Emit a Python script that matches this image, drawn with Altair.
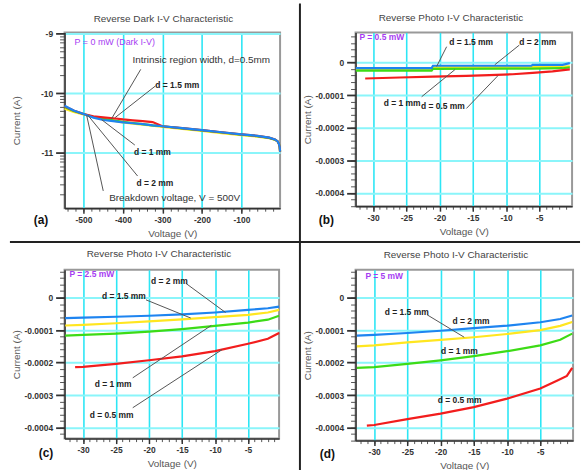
import math
import altair as alt
import pandas as pd

FONT = "Liberation Sans"
AX = "#333333"
RED, YEL, GRN, BLU = "#F21D1D", "#FFE620", "#3DDB16", "#1E84F0"
PURPLE = "#A63CF2"
LEADER = "#555555"
XGRID, YGRID = "#2DE6F5", "#8AF5FA"

# ---------------- (a) reverse dark I-V (log10 of current) ----------------
a_v = [-548, -525, -500, -475, -450, -425, -400, -375, -350, -325, -300, -250,
       -200, -150, -100, -60, -30, -15, -8, -5, -3, -2]
a_blue = [-10.21, -10.29, -10.35, -10.41, -10.45, -10.47, -10.49, -10.505, -10.52, -10.54,
          -10.555, -10.585, -10.62, -10.655, -10.69, -10.715, -10.745, -10.775, -10.81,
          -10.85, -10.9, -10.98]
a_yellow = [-10.26, -10.315, -10.355, -10.395, -10.43, -10.46, -10.49, -10.51, -10.53, -10.545,
            -10.565, -10.6, -10.635, -10.67, -10.705, -10.728, -10.755, -10.782, -10.81,
            -10.85, -10.9, -10.98]
a_green = [-10.23, -10.3, -10.35, -10.4, -10.43, -10.455, -10.48, -10.5, -10.52, -10.54,
           -10.555, -10.59, -10.625, -10.66, -10.695, -10.72, -10.75, -10.78, -10.81,
           -10.85, -10.9, -10.98]
a_red = [-10.22, -10.29, -10.35, -10.39, -10.405, -10.42, -10.44, -10.455, -10.47, -10.485,
         -10.555, -10.585, -10.62, -10.655, -10.69, -10.715, -10.745, -10.775, -10.81,
         -10.85, -10.9, -10.98]
a_bold_t = ["d = 1.5 mm", "d = 1 mm", "d = 2 mm"]
a_bold_x = [-318, -372, -366]
a_bold_y = [-9.87, -10.99, -11.5]
a_plain_t = ["Intrinsic region width, d=0.5mm", "Breakdown voltage, V = 500V"]
a_plain_x = [-376, -435]
a_plain_y = [-9.44, -11.76]
a_ld_x1 = [-355, -318, -370, -363, -450]
a_ld_y1 = [-9.6, -9.88, -10.87, -11.39, -11.64]
a_ld_x2 = [-429, -420, -454, -489, -492]
a_ld_y2 = [-10.43, -10.41, -10.445, -10.37, -10.37]

# ---------------- (b) P = 0.5 mW ----------------
b_blue_v = [-32.6, -21.2, -21.0, -6.2, -6.0, -1.5, -0.4]
b_blue_i = [-0.17e-4, -0.17e-4, -0.10e-4, -0.10e-4, -0.07e-4, -0.07e-4, -0.02e-4]
b_yel_v = [-32.6, -21.2, -21.0, -6.0, -0.4]
b_yel_i = [-0.22e-4, -0.22e-4, -0.145e-4, -0.14e-4, -0.12e-4]
b_grn_v = [-32.6, -21.2, -21.0, -6.0, -1.5, -0.4]
b_grn_i = [-0.25e-4, -0.25e-4, -0.195e-4, -0.185e-4, -0.175e-4, -0.15e-4]
b_red_v = [-31.2, -26, -21, -16, -12.5, -9, -6, -3, -0.4]
b_red_i = [-0.49e-4, -0.46e-4, -0.435e-4, -0.41e-4, -0.385e-4, -0.36e-4, -0.32e-4, -0.27e-4, -0.21e-4]
b_bold_t = ["d = 1.5 mm", "d = 2 mm", "d = 1 mm", "d = 0.5 mm"]
b_bold_x = [-18.55, -8.0, -28.4, -22.8]
b_bold_y = [0.636e-4, 0.636e-4, -1.25e-4, -1.35e-4]
b_ld_x1 = [-18.94, -8.0, -22.7, -15.96]
b_ld_y1 = [0.485e-4, 0.535e-4, -1.05e-4, -1.41e-4]
b_ld_x2 = [-20.44, -11.7, -17.7, -11.2]
b_ld_y2 = [-0.12e-4, -0.07e-4, -0.22e-4, -0.40e-4]

# ---------------- (c) P = 2.5 mW ----------------
c_v = [-32.7, -30, -25, -20, -15, -10, -5, -2, -0.3]
c_blue = [-0.63e-4, -0.615e-4, -0.59e-4, -0.56e-4, -0.52e-4, -0.46e-4, -0.38e-4, -0.33e-4, -0.28e-4]
c_yel = [-0.86e-4, -0.84e-4, -0.79e-4, -0.73e-4, -0.67e-4, -0.60e-4, -0.53e-4, -0.46e-4, -0.38e-4]
c_grn = [-1.17e-4, -1.15e-4, -1.11e-4, -1.05e-4, -0.97e-4, -0.87e-4, -0.77e-4, -0.68e-4, -0.56e-4]
c_red_v = [-31.2, -30, -25, -20, -15, -10, -5, -2, -0.3]
c_red = [-2.14e-4, -2.13e-4, -2.04e-4, -1.93e-4, -1.81e-4, -1.65e-4, -1.42e-4, -1.27e-4, -1.09e-4]
c_bold_t = ["d = 2 mm", "d = 1.5 mm", "d = 1 mm", "d = 0.5 mm"]
c_bold_x = [-19.7, -27.14, -28.24, -29.0]
c_bold_y = [0.52e-4, 0.05e-4, -2.65e-4, -3.61e-4]
c_ld_x1 = [-14.44, -20.46, -22.47, -22.47]
c_ld_y1 = [0.44e-4, -0.07e-4, -2.47e-4, -3.39e-4]
c_ld_x2 = [-8.41, -13.68, -10.57, -8.92]
c_ld_y2 = [-0.46e-4, -0.63e-4, -0.857e-4, -1.6e-4]

# ---------------- (d) P = 5 mW ----------------
d_v = [-32.6, -30, -25, -20, -15, -10, -5, -2, -0.2]
d_blue = [-1.17e-4, -1.15e-4, -1.09e-4, -1.02e-4, -0.94e-4, -0.865e-4, -0.76e-4, -0.66e-4, -0.55e-4]
d_yel = [-1.50e-4, -1.47e-4, -1.38e-4, -1.30e-4, -1.22e-4, -1.12e-4, -1.0e-4, -0.87e-4, -0.75e-4]
d_grn = [-2.16e-4, -2.14e-4, -2.04e-4, -1.93e-4, -1.80e-4, -1.65e-4, -1.47e-4, -1.30e-4, -1.11e-4]
d_red_v = [-31.1, -30, -25, -20, -15, -10, -5, -2.5, -1, -0.2]
d_red = [-3.94e-4, -3.92e-4, -3.74e-4, -3.57e-4, -3.37e-4, -3.11e-4, -2.80e-4, -2.56e-4, -2.41e-4, -2.16e-4]
d_bold_t = ["d = 1.5 mm", "d = 2 mm", "d = 1 mm", "d = 0.5 mm"]
d_bold_x = [-28.4, -18.2, -19.94, -20.44]
d_bold_y = [-0.45e-4, -0.73e-4, -1.63e-4, -3.16e-4]
d_ld_x1 = [-22.03]
d_ld_y1 = [-0.53e-4]
d_ld_x2 = [-16.45]
d_ld_y2 = [-1.22e-4]

photo_xmaj = [-30, -25, -20, -15, -10, -5]
photo_ymaj = [0, -0.0001, -0.0002, -0.0003, -0.0004]


def build_panel(curves, xdom, ydom, xmaj, xminor, ymaj, yminor, width, height,
                bold, plain, leaders, plabel, plabel_size, plabel_weight, plabel_pos,
                letter, letter_pos, title, title_pos, extras):
    xs = alt.Scale(domain=xdom, nice=False, zero=False)
    ys = alt.Scale(domain=ydom, nice=False, zero=False)
    first_v, first_i, _ = curves[0]
    base_df = pd.DataFrame({"v": first_v, "i": first_i})

    major = alt.Chart(base_df).mark_point(opacity=0).encode(
        x=alt.X("v:Q", scale=xs, axis=alt.Axis(
            orient="bottom",
            values=xmaj, labelExpr="'' + datum.value", title="Voltage (V)",
            grid=True, gridColor=XGRID, gridWidth=1.6, gridOpacity=1,
            tickSize=5, tickWidth=1.5, tickColor=AX, domainColor=AX, domainWidth=1.5,
            labelFont=FONT, labelFontSize=8.5, labelFontWeight="bold", labelColor=AX,
            labelPadding=2, titleFont=FONT, titleFontSize=10, titleFontWeight="normal",
            titleColor="#555555", titleX=width / 2, titleY=25, titleBaseline="middle",
            titleAlign="center")),
        y=alt.Y("i:Q", scale=ys, axis=alt.Axis(
            orient="left",
            values=ymaj, labelExpr="'' + datum.value", title="Current (A)",
            grid=True, gridColor=YGRID, gridWidth=2, gridOpacity=1,
            tickSize=9, tickWidth=1.8, tickColor=AX, domainColor=AX, domainWidth=1.5,
            labelFont=FONT, labelFontSize=8.5, labelFontWeight="bold", labelColor=AX,
            labelPadding=3, titleFont=FONT, titleFontSize=10, titleFontWeight="normal",
            titleColor="#555555", titleX=-48, titleY=height / 2, titleAngle=-90,
            titleBaseline="middle", titleAlign="center")),
    )
    minor = alt.Chart(base_df).mark_point(opacity=0).encode(
        x=alt.X("v:Q", scale=xs, axis=alt.Axis(
            values=xminor, labels=False, grid=False, domain=False, tickSize=3,
            tickWidth=1, tickColor="#555555", title=None, orient="bottom")),
        y=alt.Y("i:Q", scale=ys, axis=alt.Axis(
            values=yminor, labels=False, grid=False, domain=False, tickSize=5,
            tickWidth=1, tickColor="#555555", title=None, orient="left")),
    )

    layers = []
    for v, i, col in curves:
        df = pd.DataFrame({"v": v, "i": i})
        layers.append(alt.Chart(df).mark_line(color=col, strokeWidth=2.2).encode(
            x=alt.X("v:Q", scale=xs, axis=None),
            y=alt.Y("i:Q", scale=ys, axis=None)))

    lx1, ly1, lx2, ly2 = leaders
    ld = pd.DataFrame({"x1": lx1, "y1": ly1, "x2": lx2, "y2": ly2})
    layers.append(alt.Chart(ld).mark_rule(color=LEADER, strokeWidth=1).encode(
        x=alt.X("x1:Q", scale=xs, axis=None), y=alt.Y("y1:Q", scale=ys, axis=None),
        x2="x2:Q", y2="y2:Q"))

    bt, bx, by = bold
    bdf = pd.DataFrame({"t": bt, "x": bx, "y": by})
    layers.append(alt.Chart(bdf).mark_text(
        align="left", baseline="middle", font=FONT, fontSize=8.5, fontWeight="bold",
        color="#222222").encode(
        x=alt.X("x:Q", scale=xs, axis=None), y=alt.Y("y:Q", scale=ys, axis=None), text="t:N"))

    if plain is not None:
        pt, px, py = plain
        pdf = pd.DataFrame({"t": pt, "x": px, "y": py})
        layers.append(alt.Chart(pdf).mark_text(
            align="left", baseline="middle", font=FONT, fontSize=10, fontWeight="normal",
            color="#333333").encode(
            x=alt.X("x:Q", scale=xs, axis=None), y=alt.Y("y:Q", scale=ys, axis=None),
            text="t:N"))

    layers.append(alt.Chart(pd.DataFrame({"t": [plabel]})).mark_text(
        align="left", baseline="middle", font=FONT, fontSize=plabel_size,
        fontWeight=plabel_weight, color=PURPLE).encode(
        x=alt.value(plabel_pos[0]), y=alt.value(plabel_pos[1]), text="t:N"))

    layers.append(alt.Chart(pd.DataFrame({"t": [letter]})).mark_text(
        align="left", baseline="middle", font=FONT, fontSize=12, fontWeight="bold",
        color="#111111").encode(
        x=alt.value(letter_pos[0]), y=alt.value(letter_pos[1]), text="t:N"))

    layers.append(alt.Chart(pd.DataFrame({"t": [title]})).mark_text(
        align="center", baseline="middle", font=FONT, fontSize=10, fontWeight="normal",
        color="#444444").encode(
        x=alt.value(title_pos[0]), y=alt.value(title_pos[1]), text="t:N"))

    layers.extend(extras)

    return alt.layer(minor, major, *layers).resolve_axis(
        x="independent", y="independent").properties(width=width, height=height)


def in_dom(vals, dom):
    lo, hi = min(dom), max(dom)
    return [round(v, 8) for v in vals if lo <= v <= hi]


# tick positions (axis styling only)
a_xdom = [-548, -2]
a_ydom = [-11.93, -8.98]
a_xminor = in_dom([-540 + 20 * k for k in range(27)], a_xdom)
a_yminor = in_dom([e + math.log10(k) for e in (-12, -11, -10) for k in range(2, 10)], a_ydom)

ph_xminor_all = [-32 + k for k in range(32)]
ph_yminor_all = [-0.00044 + 0.00002 * k for k in range(27)]

sep_df = pd.DataFrame({"k": [0]})
vsep = alt.Chart(sep_df).mark_rule(color="#222222", strokeWidth=2).encode(
    x=alt.value(-56), y=alt.value(-29), y2=alt.value(441))
hsep = alt.Chart(sep_df).mark_rule(color="#222222", strokeWidth=2).encode(
    x=alt.value(-55), x2=alt.value(519), y=alt.value(-28))

DARK_TITLE = "Reverse Dark I-V Characteristic"
PHOTO_TITLE = "Reverse Photo I-V Characteristic"

pa = build_panel(
    [(a_v, a_yellow, YEL), (a_v, a_green, GRN), (a_v, a_red, RED), (a_v, a_blue, BLU)],
    a_xdom, a_ydom, [-500, -400, -300, -200, -100], a_xminor, [-9, -10, -11], a_yminor,
    217, 177, (a_bold_t, a_bold_x, a_bold_y), (a_plain_t, a_plain_x, a_plain_y),
    (a_ld_x1, a_ld_y1, a_ld_x2, a_ld_y2), "P = 0 mW (Dark I-V)", 9, "normal", (10, 10),
    "(a)", (-31, 189), DARK_TITLE, (99.5, -13.6), [])

b_xdom, b_ydom = [-32.65, -0.06], [-0.000441, 0.0000924]
pb = build_panel(
    [(b_yel_v, b_yel_i, YEL), (b_grn_v, b_grn_i, GRN), (b_red_v, b_red_i, RED),
     (b_blue_v, b_blue_i, BLU)],
    b_xdom, b_ydom, photo_xmaj, in_dom(ph_xminor_all, b_xdom), photo_ymaj,
    in_dom(ph_yminor_all, b_ydom), 218, 175, (b_bold_t, b_bold_x, b_bold_y), None,
    (b_ld_x1, b_ld_y1, b_ld_x2, b_ld_y2), "P = 0.5 mW", 8.5, "bold", (4, 5),
    "(b)", (-37, 189), PHOTO_TITLE, (96, -14.3), [vsep])

c_xdom, c_ydom = [-32.8, -0.3], [-0.000434, 0.0000855]
pc = build_panel(
    [(c_v, c_yel, YEL), (c_v, c_grn, GRN), (c_red_v, c_red, RED), (c_v, c_blue, BLU)],
    c_xdom, c_ydom, photo_xmaj, in_dom(ph_xminor_all, c_xdom), photo_ymaj,
    in_dom(ph_yminor_all, c_ydom), 216, 170, (c_bold_t, c_bold_x, c_bold_y), None,
    (c_ld_x1, c_ld_y1, c_ld_x2, c_ld_y2), "P = 2.5 mW", 8.5, "bold", (5, 4),
    "(c)", (-26, 185), PHOTO_TITLE, (95, -16), [hsep])

d_xdom, d_ydom = [-32.8, -0.07], [-0.00044, 0.0000855]
pd_ = build_panel(
    [(d_v, d_yel, YEL), (d_v, d_grn, GRN), (d_red_v, d_red, RED), (d_v, d_blue, BLU)],
    d_xdom, d_ydom, photo_xmaj, in_dom(ph_xminor_all, d_xdom), photo_ymaj,
    in_dom(ph_yminor_all, d_ydom), 219, 172, (d_bold_t, d_bold_x, d_bold_y), None,
    (d_ld_x1, d_ld_y1, d_ld_x2, d_ld_y2), "P = 5 mW", 8.5, "bold", (10, 6),
    "(d)", (-36, 186), PHOTO_TITLE, (101, -14.4), [])

chart = alt.concat(pa, pb, pc, pd_, columns=2, spacing={"row": 62, "column": 76},
                   bounds="flush").properties(
    padding={"left": 8, "top": 0, "right": 0, "bottom": 0},
    background="white",
).configure_view(stroke="#999999", strokeWidth=2)

chart.save("out.html", embed_options={"renderer": "svg", "actions": False})
